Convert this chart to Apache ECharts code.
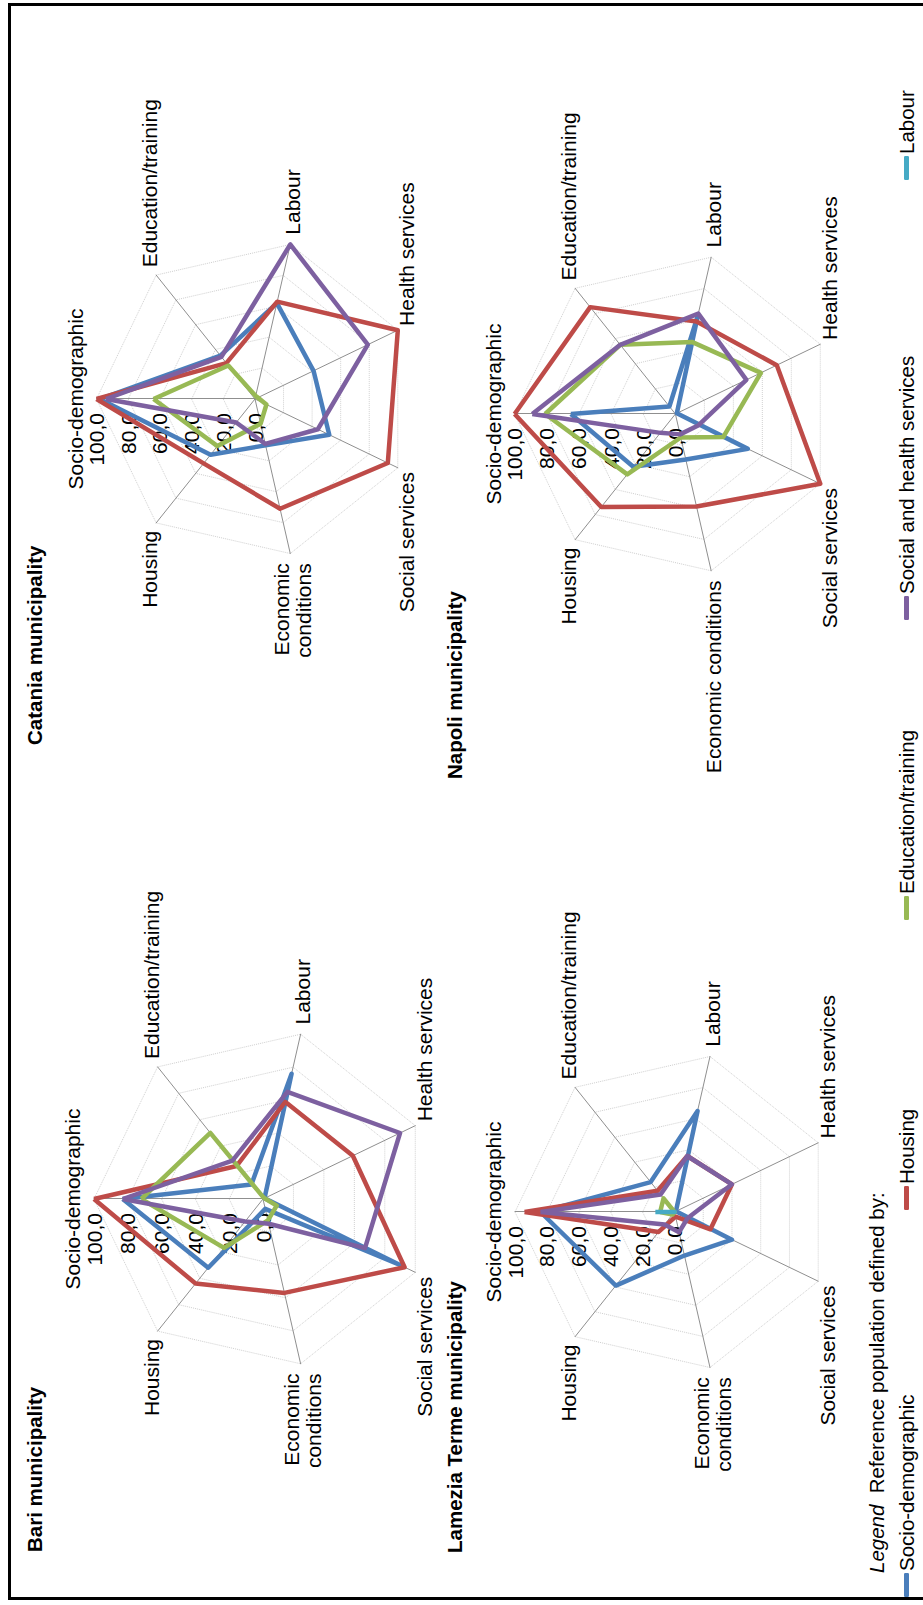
<!DOCTYPE html>
<html>
<head>
<meta charset="utf-8">
<script src="https://cdn.jsdelivr.net/npm/echarts@6/dist/echarts.min.js"></script>
<style>
html,body{margin:0;padding:0;background:#fff;width:923px;height:1605px;overflow:hidden;}
#chart{position:absolute;left:0;top:0;width:1605px;height:923px;transform-origin:0 0;transform:matrix(0,-1,1,0,0,1605);}
#frame{position:absolute;left:8px;top:3px;width:940px;height:1591px;border:3px solid #000;pointer-events:none;}
</style>
</head>
<body>
<div id="chart"></div>
<div id="frame"></div>
<script>
// Axis (indicator) names, in clockwise order starting from the top
const axisNames = ['Socio-demographic','Education/training','Labour','Health services','Social services','Economic conditions','Housing'];
// Reference populations (series)
const populations = ['Socio-demographic','Housing','Education/training','Social and health services','Labour'];
const popColors = ['#4a7ebb','#be4b48','#98b954','#7d60a0','#46aac5'];
const tickValues = [0,20,40,60,80,100];

// Values per municipality, axis order as axisNames
const bariSocio    = [83, 11, 76, 1, 90, 6, 52];
const bariHousing  = [100, 25, 59, 59, 93, 57, 64];
const bariEdu      = [72, 50, 1, 1, 9, 13, 37];
const bariSocHealth= [83, 29, 65, 90, 67, 15, 17];
const bariLabour   = [0, 0, 0, 0, 0, 0, 0];

const cataniaSocio    = [98, 35, 62, 41, 52, 30, 45];
const cataniaHousing  = [100, 29, 63, 100, 93, 71, 52];
const cataniaEdu      = [64, 27, 2, 2, 8, 16, 38];
const cataniaSocHealth= [94, 34, 100, 79, 44, 29, 19];
const cataniaLabour   = [0, 0, 0, 0, 0, 0, 0];

const lameziaSocio    = [84, 24, 65, 1, 40, 28, 59];
const lameziaHousing  = [94, 17, 36, 40, 25, 3, 16];
const lameziaEdu      = [9, 11, 0, 0, 0, 0, 2];
const lameziaSocHealth= [84, 14, 36, 40, 9, 13, 10];
const lameziaLabour   = [12, 0, 0, 0, 0, 0, 0];

const napoliSocio    = [65, 6, 63, 1, 50, 29, 42];
const napoliHousing  = [100, 85, 59, 70, 100, 59, 74];
const napoliEdu      = [81, 55, 46, 59, 33, 15, 48];
const napoliSocHealth= [89, 55, 64, 49, 16, 13, 15];
const napoliLabour   = [0, 0, 0, 0, 0, 0, 0];

const FONT = 'Liberation Sans, Arial, sans-serif';

const panels = [
  {title:'Bari municipality', titlePos:[53,24], center:[406,263], radius:169, twoLineEcon:true,
   values:[bariSocio,bariHousing,bariEdu,bariSocHealth,bariLabour]},
  {title:'Catania municipality', titlePos:[860,24], center:[1206,255], radius:158.5, twoLineEcon:true,
   values:[cataniaSocio,cataniaHousing,cataniaEdu,cataniaSocHealth,cataniaLabour]},
  {title:'Lamezia Terme municipality', titlePos:[52,444], center:[393,674.5], radius:159.5, twoLineEcon:true,
   values:[lameziaSocio,lameziaHousing,lameziaEdu,lameziaSocHealth,lameziaLabour]},
  {title:'Napoli municipality', titlePos:[826,444], center:[1191,675.4], radius:160.8, twoLineEcon:false,
   values:[napoliSocio,napoliHousing,napoliEdu,napoliSocHealth,napoliLabour]}
];

// ECharts places indicators counter-clockwise; reorder to get the clockwise layout
const order = [0,6,5,4,3,2,1];
const fmt = v => v.toFixed(1).replace('.', ',');

const radars = panels.map(p => ({
  center: p.center,
  radius: p.radius,
  startAngle: 90,
  shape: 'polygon',
  splitNumber: tickValues.length - 1,
  nameGap: 10,
  axisName: {color:'#000', fontSize:21, fontFamily:FONT, lineHeight:22},
  axisLine: {lineStyle:{color:'#8f8f8f', width:1}},
  splitLine: {lineStyle:{color:'#d0d0d0', width:1, type:'dotted'}},
  splitArea: {show:false},
  axisTick: {show:false},
  axisLabel: {show:false},
  indicator: order.map((k, i) => {
    let name = axisNames[k];
    if (k === 5 && p.twoLineEcon) name = 'Economic\nconditions';
    const ind = {name: name, min: tickValues[0], max: tickValues[tickValues.length-1]};
    if (i === 0) {
      ind.axisLabel = {show:true, color:'#000', fontSize:21, fontFamily:FONT, margin:14, formatter: fmt};
    }
    return ind;
  })
}));

const series = panels.map((p, ri) => ({
  type: 'radar',
  radarIndex: ri,
  symbol: 'none',
  silent: true,
  data: populations.map((name, si) => ({
    name: name,
    value: order.map(k => p.values[si][k]),
    lineStyle: {color: popColors[si], width: 4.5},
    itemStyle: {color: popColors[si]}
  }))
}));

const titles = panels.map(p => ({
  text: p.title, left: p.titlePos[0], top: p.titlePos[1], padding: 0,
  textStyle: {fontSize: 20.5, fontWeight: 'bold', color: '#000', fontFamily: FONT}
}));
titles.push({
  text: '{it|Legend}  Reference population defined by:',
  left: 32, top: 866, padding: 0,
  textStyle: {fontSize: 20.5, fontWeight: 'normal', color: '#000', fontFamily: FONT,
    rich: {it: {fontStyle: 'italic', fontSize: 20.5, color:'#000', fontFamily: FONT}}}
});

const legendLefts = [8, 395, 685, 985, 1425];
const legends = populations.map((name, i) => ({
  data: [name], left: legendLefts[i], top: 896, padding: 0,
  icon: 'roundRect', itemWidth: 24, itemHeight: 5, itemGap: 0,
  selectedMode: false,
  textStyle: {fontSize: 20.5, color: '#000', fontFamily: FONT, padding:[0,0,0,-3]}
}));

const chart = echarts.init(document.getElementById('chart'), null, {renderer: 'svg', width: 1605, height: 923});
chart.setOption({
  animation: false,
  backgroundColor: '#fff',
  title: titles,
  legend: legends,
  radar: radars,
  series: series
});
</script>
</body>
</html>
